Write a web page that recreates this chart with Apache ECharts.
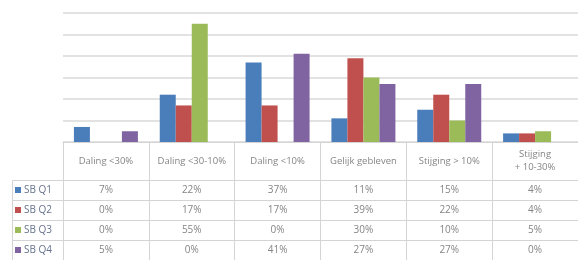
<!DOCTYPE html>
<html>
<head>
<meta charset="utf-8">
<script src="https://cdn.jsdelivr.net/npm/echarts@6/dist/echarts.min.js"></script>
<style>
  html, body { margin: 0; padding: 0; background: #fff; }
  #chartBox { width: 578px; height: 260px; }
</style>
</head>
<body>
<div id="chartBox"></div>
<script>
// categorieen en waarden (procent)
const categories = ['Daling <30%', 'Daling <30-10%', 'Daling <10%', 'Gelijk gebleven', 'Stijging > 10%', 'Stijging\n+ 10-30%']
const seriesNames = ['SB Q1', 'SB Q2', 'SB Q3', 'SB Q4']
const q1 = [7, 22, 37, 11, 15, 4]
const q2 = [0, 17, 17, 39, 22, 4]
const q3 = [0, 55, 0, 30, 10, 5]
const q4 = [5, 0, 41, 27, 27, 0]
const yTicks = [0, 10, 20, 30, 40, 50, 60]

const values = [q1, q2, q3, q4]
const colors = ['#4a7ebb', '#c0504d', '#9bbb59', '#8064a2']
const gridColor = '#d9d9d9'
const tableLine = '#d4d4d4'
const textColor = '#858585'
const font = 'Open Sans'

const myChart = echarts.init(document.getElementById('chartBox'))

// tabel-rijen als extra x-assen onder de grafiek
const rowAxes = values.map((arr, i) => ({
  type: 'category',
  data: arr.map(v => v + '%'),
  position: 'bottom',
  offset: 38 + i * 20,
  axisLine: { show: true, lineStyle: { color: tableLine, width: 1 } },
  axisTick: { show: false },
  axisLabel: {
    interval: 0,
    margin: 10,
    verticalAlign: 'middle',
    color: textColor,
    fontFamily: font,
    fontSize: 10
  }
}))

const option = {
  animation: false,
  color: colors,
  grid: { left: 63, top: 13, width: 523, bottom: 118 },
  legend: {
    orient: 'vertical',
    left: 15,
    top: 184,
    padding: 0,
    itemWidth: 6,
    itemHeight: 6,
    itemGap: 8,
    icon: 'rect',
    selectedMode: false,
    data: seriesNames,
    textStyle: { color: '#66728c', fontFamily: font, fontSize: 10, lineHeight: 12, padding: [0, 0, 0, -2] }
  },
  xAxis: [
    {
      type: 'category',
      data: categories,
      axisLine: { show: true, lineStyle: { color: tableLine, width: 1 } },
      axisTick: { show: true, length: 118, interval: 0, lineStyle: { color: tableLine, width: 1 } },
      axisLabel: {
        interval: 0,
        margin: 19,
        verticalAlign: 'middle',
        color: textColor,
        fontFamily: font,
        fontSize: 9.5,
        lineHeight: 13
      }
    },
    ...rowAxes
  ],
  yAxis: {
    type: 'value',
    min: yTicks[0],
    max: yTicks[yTicks.length - 1],
    interval: 10,
    axisLine: { show: false },
    axisTick: { show: false },
    axisLabel: { show: false },
    splitLine: { lineStyle: { color: gridColor, width: 1.5 } }
  },
  graphic: [
    // linkerkolom van de tabel (rij-labels)
    { type: 'line', shape: { x1: 12, y1: 180.5, x2: 63, y2: 180.5 }, style: { stroke: tableLine, lineWidth: 1 } },
    { type: 'line', shape: { x1: 12, y1: 200.5, x2: 63, y2: 200.5 }, style: { stroke: tableLine, lineWidth: 1 } },
    { type: 'line', shape: { x1: 12, y1: 220.5, x2: 63, y2: 220.5 }, style: { stroke: tableLine, lineWidth: 1 } },
    { type: 'line', shape: { x1: 12, y1: 240.5, x2: 63, y2: 240.5 }, style: { stroke: tableLine, lineWidth: 1 } },
    { type: 'line', shape: { x1: 12.5, y1: 180, x2: 12.5, y2: 260 }, style: { stroke: tableLine, lineWidth: 1 } }
  ],
  series: values.map((arr, i) => ({
    name: seriesNames[i],
    type: 'bar',
    data: arr,
    barWidth: 16,
    barGap: '0%',
    xAxisIndex: 0
  }))
}

if (myChart) {
  myChart.setOption(option)
}
</script>
</body>
</html>
